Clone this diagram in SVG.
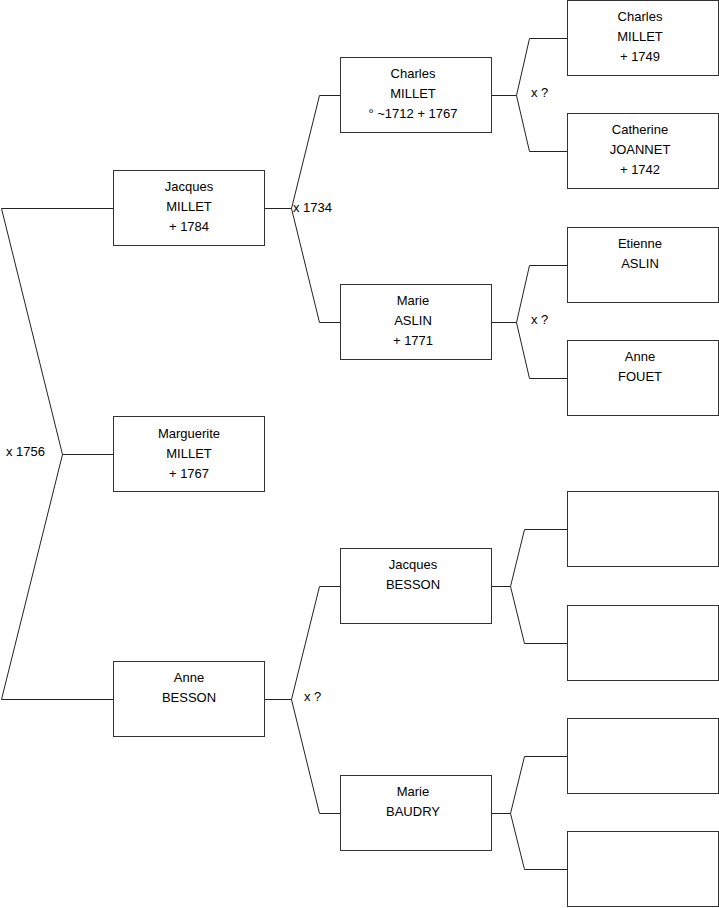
<svg xmlns="http://www.w3.org/2000/svg" width="719" height="908" viewBox="0 0 719 908">
<style>
.box{fill:#fff;stroke:#333;stroke-width:1}
.t{font-family:"Liberation Sans",Arial,sans-serif;font-size:13px;fill:#000;text-anchor:middle}
.l{font-family:"Liberation Sans",Arial,sans-serif;font-size:13px;fill:#000}
.c{fill:none;stroke:#222;stroke-width:1}
</style>
<rect width="719" height="908" fill="#fff"/>
<g id="connectors">
<polyline class="c" points="113.5,208.5 1.5,208.5 62.5,454.5 1.5,699.5 113.5,699.5"/>
<line class="c" x1="62.5" y1="454.5" x2="113.5" y2="454.5"/>
<polyline class="c" points="264.5,208.5 291.5,208.5"/>
<polyline class="c" points="340.5,95.5 319.5,95.5 291.5,208.5 319.5,322.5 340.5,322.5"/>
<polyline class="c" points="491.5,95.5 516.5,95.5"/>
<polyline class="c" points="567.5,38.5 529.5,38.5 516.5,95.5 529.5,151.5 567.5,151.5"/>
<polyline class="c" points="491.5,322.5 516.5,322.5"/>
<polyline class="c" points="567.5,265.5 529.5,265.5 516.5,322.5 529.5,378.5 567.5,378.5"/>
<polyline class="c" points="264.5,699.5 291.5,699.5"/>
<polyline class="c" points="340.5,586.5 319.5,586.5 291.5,699.5 319.5,813.5 340.5,813.5"/>
<polyline class="c" points="491.5,586.5 510.5,586.5"/>
<polyline class="c" points="567.5,529.5 524.5,529.5 510.5,586.5 524.5,643.5 567.5,643.5"/>
<polyline class="c" points="491.5,813.5 510.5,813.5"/>
<polyline class="c" points="567.5,756.5 524.5,756.5 510.5,813.5 524.5,869.5 567.5,869.5"/>
<text class="l" x="6" y="456">x 1756</text>
<text class="l" x="293" y="212">x 1734</text>
<text class="l" x="531" y="97">x ?</text>
<text class="l" x="531" y="324">x ?</text>
<text class="l" x="304" y="701">x ?</text>
</g>
<g id="jacques-millet"><rect class="box" x="113.5" y="170.5" width="151" height="75"/><text class="t" x="189" y="190.5">Jacques</text><text class="t" x="189" y="210.5">MILLET</text><text class="t" x="189" y="230.5">+ 1784</text></g>
<g id="marguerite-millet"><rect class="box" x="113.5" y="416.5" width="151" height="75"/><text class="t" x="189" y="438">Marguerite</text><text class="t" x="189" y="458">MILLET</text><text class="t" x="189" y="478">+ 1767</text></g>
<g id="anne-besson"><rect class="box" x="113.5" y="661.5" width="151" height="75"/><text class="t" x="189" y="682">Anne</text><text class="t" x="189" y="702">BESSON</text></g>
<g id="charles-millet-1"><rect class="box" x="340.5" y="57.5" width="151" height="75"/><text class="t" x="413" y="77.5">Charles</text><text class="t" x="413" y="97.5">MILLET</text><text class="t" x="413" y="117.5">° ~1712 + 1767</text></g>
<g id="marie-aslin"><rect class="box" x="340.5" y="284.5" width="151" height="75"/><text class="t" x="413" y="304.5">Marie</text><text class="t" x="413" y="324.5">ASLIN</text><text class="t" x="413" y="344.5">+ 1771</text></g>
<g id="jacques-besson"><rect class="box" x="340.5" y="548.5" width="151" height="75"/><text class="t" x="413" y="569">Jacques</text><text class="t" x="413" y="589">BESSON</text></g>
<g id="marie-baudry"><rect class="box" x="340.5" y="775.5" width="151" height="75"/><text class="t" x="413" y="796">Marie</text><text class="t" x="413" y="816">BAUDRY</text></g>
<g id="charles-millet-2"><rect class="box" x="567.5" y="0.5" width="151" height="75"/><text class="t" x="640" y="20.5">Charles</text><text class="t" x="640" y="40.5">MILLET</text><text class="t" x="640" y="60.5">+ 1749</text></g>
<g id="catherine-joannet"><rect class="box" x="567.5" y="113.5" width="151" height="75"/><text class="t" x="640" y="134">Catherine</text><text class="t" x="640" y="154">JOANNET</text><text class="t" x="640" y="174">+ 1742</text></g>
<g id="etienne-aslin"><rect class="box" x="567.5" y="227.5" width="151" height="75"/><text class="t" x="640" y="247.5">Etienne</text><text class="t" x="640" y="267.5">ASLIN</text></g>
<g id="anne-fouet"><rect class="box" x="567.5" y="340.5" width="151" height="75"/><text class="t" x="640" y="361">Anne</text><text class="t" x="640" y="381">FOUET</text></g>
<g id="empty-1"><rect class="box" x="567.5" y="491.5" width="151" height="75"/></g>
<g id="empty-2"><rect class="box" x="567.5" y="605.5" width="151" height="75"/></g>
<g id="empty-3"><rect class="box" x="567.5" y="718.5" width="151" height="75"/></g>
<g id="empty-4"><rect class="box" x="567.5" y="831.5" width="151" height="75"/></g>
</svg>
